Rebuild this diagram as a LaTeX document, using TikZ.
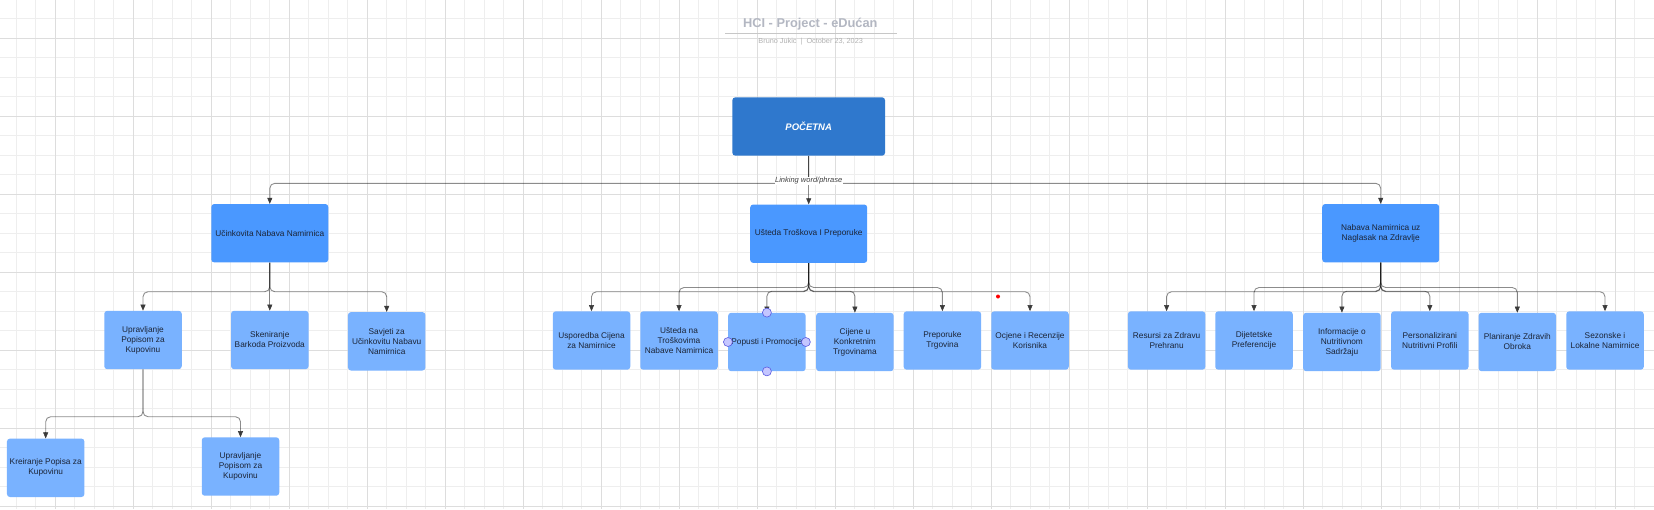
\documentclass[tikz,border=0pt]{standalone}
\usepackage{fontspec}
\setmainfont{Liberation Sans}
\usetikzlibrary{arrows.meta}
\definecolor{rootblue}{HTML}{2F78CD}
\definecolor{lonblue}{HTML}{4A98FF}
\definecolor{ltwblue}{HTML}{79B2FF}
\definecolor{boxtext}{HTML}{1B2436}
\definecolor{gridminor}{HTML}{EEEEEE}
\definecolor{gridmajor}{HTML}{DDDDDD}
\definecolor{tipcol}{HTML}{3A3A3A}
\definecolor{titlegray}{HTML}{B3B7C2}
\definecolor{handlefill}{HTML}{C4C6FF}
\definecolor{handledraw}{HTML}{5B5BE0}
\newcommand\conn[3]{%
  \draw[wire] (#1.south) -- (#1.south |- 0,#3) -| (#2.north);
  \draw[tipst] ([yshift=6pt]#2.north) -- (#2.north);}
\newcommand\connstraight[2]{%
  \draw[wire] (#1.south) -- (#2.north);
  \draw[tipst] ([yshift=6pt]#2.north) -- (#2.north);}
\begin{document}
\begin{tikzpicture}[x=1pt,y=-1pt,
  rootbox/.style={fill=rootblue, rounded corners=3pt, minimum width=152.7pt, minimum height=58.4pt,
    text=white, font=\fontsize{9.5}{11}\selectfont\bfseries\itshape, inner sep=1pt},
  lonebox/.style={fill=lonblue, rounded corners=3pt, minimum width=117pt, minimum height=58.4pt,
    text=boxtext, align=center, font=\fontsize{8.3}{10}\selectfont, inner sep=1pt},
  ltwobox/.style={fill=ltwblue, rounded corners=3pt, minimum width=77.5pt, minimum height=58.4pt,
    text=boxtext, align=center, font=\fontsize{8.3}{10}\selectfont, inner sep=1pt},
  wire/.style={draw=black, draw opacity=0.45, line width=0.9pt, rounded corners=5pt, shorten >=5pt},
  tipst/.style={draw=tipcol, fill=tipcol, line width=0.5pt, -{Triangle[length=6pt,width=5pt]}},
  linklab/.style={fill=white, inner sep=0.6pt, text=black!75, font=\fontsize{7.5}{9}\selectfont\itshape},
  handle/.style={circle, fill=handlefill, draw=handledraw, line width=0.6pt, minimum size=9pt, inner sep=0pt},
  gminor/.style={draw=gridminor, line width=0.9pt},
  gmajor/.style={draw=gridmajor, line width=1pt}
]
\useasboundingbox (0,0) rectangle (1654,509);
\fill[white] (0,0) rectangle (1654,509);
% grid
\foreach \i in {0,...,84} { \draw[gminor] ({16.33+19.5*\i},0) -- ({16.33+19.5*\i},509); }
\foreach \i in {0,...,25} { \draw[gminor] (0,{18.83+19.5*\i}) -- (1654,{18.83+19.5*\i}); }
\foreach \i in {0,...,20} { \draw[gmajor] ({55.33+78*\i},0) -- ({55.33+78*\i},509); }
\foreach \i in {0,...,6} { \draw[gmajor] (0,{38.33+78*\i}) -- (1654,{38.33+78*\i}); }
% title
\node[text=titlegray, font=\fontsize{12.8}{14}\selectfont\bfseries] (title) at (810.3,24.3) {HCI - Project - eDućan};
\draw[draw=black!22, line width=0.7pt] (725,33.3) -- (896.7,33.3);
\node[text=black!30, font=\fontsize{7.3}{9}\selectfont] (subtitle) at (810.7,41.7) {Bruno Jukic\hspace{4pt}|\hspace{4pt}October 23, 2023};
% nodes
\node[rootbox] (root) at (808.7,126.5) {POČETNA};
\node[lonebox] (A) at (269.8,233.2) {Učinkovita Nabava Namirnica};
\node[lonebox] (B) at (808.7,233.7) {Ušteda Troškova I Preporuke};
\node[lonebox] (C) at (1380.7,233.2) {Nabava Namirnica uz\\Naglasak na Zdravlje};
\node[ltwobox] (A1) at (143,340) {Upravljanje\\Popisom za\\Kupovinu};
\node[ltwobox] (A2) at (269.8,340) {Skeniranje\\Barkoda Proizvoda};
\node[ltwobox] (A3) at (386.7,341.3) {Savjeti za\\Učinkovitu Nabavu\\Namirnica};
\node[ltwobox] (B1) at (591.5,340.5) {Usporedba Cijena\\za Namirnice};
\node[ltwobox] (B2) at (679,340.5) {Ušteda na\\Troškovima\\Nabave Namirnica};
\node[ltwobox] (B3) at (766.9,342) {Popusti i Promocije};
\node[ltwobox] (B4) at (854.9,342) {Cijene u\\Konkretnim\\Trgovinama};
\node[ltwobox] (B5) at (942.4,340.5) {Preporuke\\Trgovina};
\node[ltwobox] (B6) at (1030,340.5) {Ocjene i Recenzije\\Korisnika};
\node[ltwobox] (C1) at (1166.6,340.5) {Resursi za Zdravu\\Prehranu};
\node[ltwobox] (C2) at (1254,340.5) {Dijetetske\\Preferencije};
\node[ltwobox] (C3) at (1341.9,342) {Informacije o\\Nutritivnom\\Sadržaju};
\node[ltwobox] (C4) at (1429.8,340.5) {Personalizirani\\Nutritivni Profili};
\node[ltwobox] (C5) at (1517.3,342) {Planiranje Zdravih\\Obroka};
\node[ltwobox] (C6) at (1605,340.5) {Sezonske i\\Lokalne Namirnice};
\node[ltwobox] (D1) at (45.7,467.8) {Kreiranje Popisa za\\Kupovinu};
\node[ltwobox] (D2) at (240.5,466.5) {Upravljanje\\Popisom za\\Kupovinu};
% connectors
\conn{root}{A}{183.3}
\connstraight{root}{B}
\conn{root}{C}{183.3}
\conn{A}{A1}{291.7}
\connstraight{A}{A2}
\conn{A}{A3}{291.7}
\conn{B}{B1}{291.7}
\conn{B}{B2}{287.5}
\conn{B}{B3}{291.2}
\conn{B}{B4}{291.2}
\conn{B}{B5}{287.5}
\conn{B}{B6}{291.7}
\conn{C}{C1}{291.7}
\conn{C}{C2}{287.5}
\conn{C}{C3}{291.2}
\conn{C}{C4}{291.2}
\conn{C}{C5}{287.5}
\conn{C}{C6}{291.7}
\conn{A1}{D1}{416.7}
\conn{A1}{D2}{416.7}
\node[linklab] (lk) at (808.7,180.8) {Linking word/phrase};
% selection handles on Popusti
\node[handle] (hn) at (B3.north) {};
\node[handle] (hw) at (B3.west) {};
\node[handle] (he) at (B3.east) {};
\node[handle] (hs) at (B3.south) {};
\fill[red] (998,296.5) circle (2pt);
\end{tikzpicture}
\end{document}
